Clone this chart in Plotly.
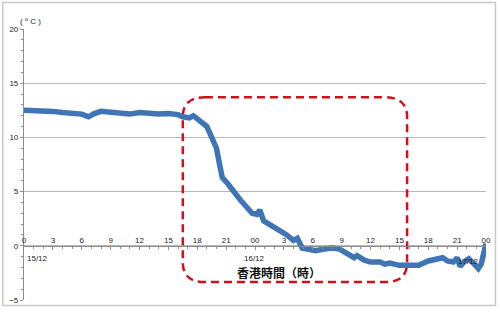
import plotly.graph_objects as go

# hours since 00:00 on 15/12 (Hong Kong time)
hours = [0, 1, 2, 3, 4, 5, 6, 6.7, 7.3, 8, 9, 10, 11, 12, 13, 14, 15, 16,
         16.5, 17.2, 17.6, 18.4, 19.0, 19.4, 19.7, 20.0, 20.3, 20.6, 21.2, 21.9,
         22.5, 23.1, 23.7, 24.2, 24.5, 24.9, 25.5, 26.5, 27.3, 28.0, 28.4, 28.9,
         29.5, 30.3, 31.2, 32.0, 32.8, 33.6, 34.3, 34.6, 35.3, 36.0, 37.0, 37.5,
         38.0, 39.0, 39.8, 41.0, 42.0, 43.0, 43.5, 44.0, 44.6, 45.0, 45.3, 45.7,
         46.2, 46.7, 47.2, 47.5, 47.9, 48.0]
temps = [12.5, 12.5, 12.45, 12.4, 12.3, 12.2, 12.15, 11.9, 12.2, 12.4, 12.3, 12.2, 12.15, 12.3, 12.2, 12.15, 12.2, 12.1,
         11.9, 11.8, 12.0, 11.4, 11.0, 10.2, 9.6, 9.0, 7.6, 6.3, 5.7, 4.8,
         4.2, 3.6, 3.0, 2.9, 3.3, 2.3, 2.0, 1.4, 1.0, 0.5, 0.7, -0.2,
         -0.35, -0.45, -0.3, -0.2, -0.3, -0.8, -1.1, -0.9, -1.3, -1.5, -1.5, -1.7,
         -1.6, -1.8, -1.85, -1.8, -1.4, -1.2, -1.1, -1.4, -1.5, -1.1, -1.9, -1.5,
         -1.2, -1.6, -2.1, -1.7, -0.2, 0.2]

x_tick_vals = [0, 3, 6, 9, 12, 15, 18, 21, 24, 27, 30, 33, 36, 39, 42, 45, 48]
x_tick_text = ["0", "3", "6", "9", "12", "15", "18", "21", "00", "3", "6", "9", "12", "15", "18", "21", "00"]
y_tick_vals = [-5, 0, 5, 10, 15, 20]
date_labels = ["15/12", "16/12", "17/12"]
date_pos = [(1.4, -1.2), (23.9, -1.2), (46.2, -1.45)]
axis_title = "<b>香港時間（時）</b>"
unit_label = "( <sup>o</sup> C )"

# highlighted region (hours, °C)
box_x0, box_x1, box_y0, box_y1 = 16.5, 39.8, -3.35, 13.7
rx, ry = 2.3, 1.8

fig = go.Figure()
fig.add_trace(go.Scatter(x=hours, y=temps, mode="lines",
                         line=dict(color="#3f74b5", width=5.5), hoverinfo="skip"))

path = (f"M {box_x0+rx},{box_y1} L {box_x1-rx},{box_y1} Q {box_x1},{box_y1} {box_x1},{box_y1-ry} "
        f"L {box_x1},{box_y0+ry} Q {box_x1},{box_y0} {box_x1-rx},{box_y0} "
        f"L {box_x0+rx},{box_y0} Q {box_x0},{box_y0} {box_x0},{box_y0+ry} "
        f"L {box_x0},{box_y1-ry} Q {box_x0},{box_y1} {box_x0+rx},{box_y1} Z")
fig.add_shape(type="path", path=path, xref="x", yref="y", layer="between",
              line=dict(color="#d0101a", width=2.5, dash="8px,5px"))

# outer frame
fig.add_shape(type="rect", xref="paper", yref="paper", x0=-0.046, x1=1.0205, y0=-0.02, y1=1.098,
              line=dict(color="#c8c8c8", width=1.5), layer="above")

for t, (xx, yy) in zip(date_labels, date_pos):
    fig.add_annotation(x=xx, y=yy, text=t, showarrow=False,
                       font=dict(family="Liberation Sans", size=8, color="#222"))
fig.add_annotation(x=26.5, y=-2.45, text=axis_title, showarrow=False,
                   font=dict(family="Noto Sans CJK TC", size=12, color="#111"))
fig.add_annotation(xref="paper", yref="paper", x=-0.012, y=1.055, text=unit_label, showarrow=False,
                   font=dict(family="Liberation Sans", size=8, color="#222"))

fig.update_layout(
    width=500, height=314, margin=dict(l=23.5, r=12.5, t=29, b=9),
    paper_bgcolor="white", plot_bgcolor="white", showlegend=False,
    xaxis=dict(range=[0, 48], side="top", anchor="free", position=0.2,
               tickvals=x_tick_vals, ticktext=x_tick_text, showgrid=False, zeroline=False,
               showline=True, linecolor="#8c8c8c", linewidth=1.2,
               ticks="inside", ticklen=3, tickcolor="#8c8c8c",
               minor=dict(dtick=1, ticks="inside", ticklen=2, tickcolor="#8c8c8c"),
               tickfont=dict(family="Liberation Sans", size=8, color="#222")),
    yaxis=dict(range=[-5, 20], tickvals=y_tick_vals, showgrid=True, gridcolor="#b8b8b8", gridwidth=1.2,
               zeroline=False, showline=True, linecolor="#8c8c8c", linewidth=1.2,
               ticks="outside", ticklen=3, tickcolor="#8c8c8c",
               minor=dict(dtick=1, ticks="outside", ticklen=2, tickcolor="#8c8c8c", showgrid=False),
               tickfont=dict(family="Liberation Sans", size=8, color="#222")),
)

fig.write_html("out.html")
